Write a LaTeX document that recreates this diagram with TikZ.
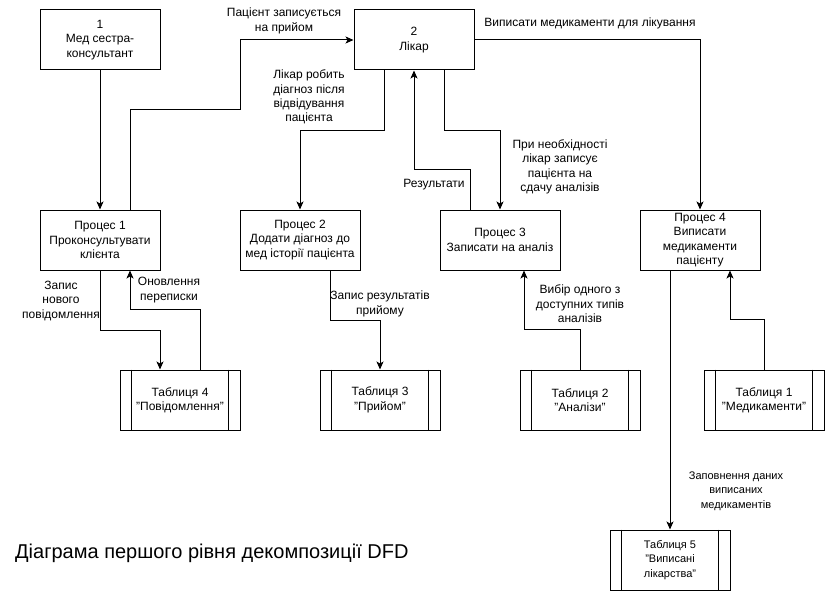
\documentclass[tikz,border=0pt]{standalone}
\usepackage{fontspec}
\setmainfont{Liberation Sans}
\usetikzlibrary{arrows.meta}

\begin{document}
\begin{tikzpicture}[x=1pt, y=-1pt,
    box/.style={draw, line width=1pt, minimum width=120pt, minimum height=60pt, align=center, inner sep=2pt, font=\fontsize{12}{14.4}\selectfont},
    store/.style={box},
    flow/.style={draw, line width=1pt, -{Stealth[length=8pt, width=7pt, inset=2pt]}},
    lbl/.style={align=center, inner sep=0pt, font=\fontsize{12}{14.4}\selectfont},
]

    \path[fill=white] (0,0) rectangle (825,591);
    \useasboundingbox (0,0) rectangle (825,591);

    % external entity and doctor
    \node[box] (n1) at (100,40) {1\\Мед сестра-\\консультант};
    \node[box] (n2) at (414,40) {2\\Лікар};

    % processes
    \node[box] (p1) at (100,240) {Процес 1\\Проконсультувати\\клієнта};
    \node[box] (p2) at (300,240) {Процес 2\\Додати діагноз до\\мед історії пацієнта};
    \node[box] (p3) at (500,240) {Процес 3\\Записати на аналіз};
    \node[box] (p4) at (700,240) {Процес 4\\Виписати\\медикаменти\\пацієнту};

    % data stores
    \node[store] (t4) at (180,400) {Таблиця 4\\"Повідомлення"};
    \node[store] (t3) at (380,400) {Таблиця 3\\"Прийом"};
    \node[store] (t2) at (580,400) {Таблиця 2\\"Аналізи"};
    \node[store] (t1) at (764,400) {Таблиця 1\\"Медикаменти"};
    \node[store, font=\fontsize{11}{14.4}\selectfont] (t5) at (670,560) {Таблиця 5\\"Виписані\\лікарства"};

    \foreach \t in {t1,t2,t3,t4,t5} {
        \draw[line width=1pt] ([xshift=12pt]\t.north west) -- ([xshift=12pt]\t.south west);
        \draw[line width=1pt] ([xshift=-12pt]\t.north east) -- ([xshift=-12pt]\t.south east);
    }

    % flows
    \draw[flow] (n1) -- (p1);
    \draw[flow] ([xshift=30pt]p1.north) -- ++(0,-100) -- ++(110,0) |- (n2.west);
    \draw[flow] ([xshift=-30pt]n2.south) -- ++(0,60) -| (p2.north);
    \draw[flow] ([xshift=-30pt]p3.north) -- ++(0,-40) -| (n2.south);
    \draw[flow] ([xshift=30pt]n2.south) -- ++(0,60) -| (p3.north);
    \draw[flow] (n2.east) -| (p4.north);
    \draw[flow] (p1.south) -- ++(0,60) -| ([xshift=-20pt]t4.north);
    \draw[flow] ([xshift=20pt]t4.north) -- ++(0,-60) -| ([xshift=30pt]p1.south);
    \draw[flow] ([xshift=30pt]p2.south) -- ++(0,50) -| (t3.north);
    \draw[flow] (t2.north) -- ++(0,-40) -| ([xshift=24pt]p3.south);
    \draw[flow] (t1.north) -- ++(0,-50) -| ([xshift=30pt]p4.south);
    \draw[flow] ([xshift=-30pt]p4.south) -- (t5.north);

    % flow labels
    \node[lbl] (l2) at (284,21) {Пацієнт записується\\на прийом};
    \node[lbl] (l3) at (309,97) {Лікар робить\\діагноз після\\відвідування\\пацієнта};
    \node[lbl] (l4) at (434,185) {Результати};
    \node[lbl] (l5) at (560,167) {При необхідності\\лікар записує\\пацієнта на\\сдачу аналізів};
    \node[lbl] (l6) at (590,23) {Виписати медикаменти для лікування};
    \node[lbl] (l7) at (61,301) {Запис\\нового\\повідомлення};
    \node[lbl] (l8) at (169,290) {Оновлення\\переписки};
    \node[lbl] (l9) at (380,304) {Запис результатів\\прийому};
    \node[lbl] (l10) at (580,304) {Вибір одного з\\доступних типів\\аналізів};
    \node[lbl, font=\fontsize{11}{14.4}\selectfont] (l12) at (736,491) {Заповнення даних\\виписаних\\медикаментів};

    \node[anchor=west, inner sep=0pt, font=\fontsize{20}{24}\selectfont] (title) at (15,553) {Діаграма першого рівня декомпозиції DFD};

\end{tikzpicture}
\end{document}
